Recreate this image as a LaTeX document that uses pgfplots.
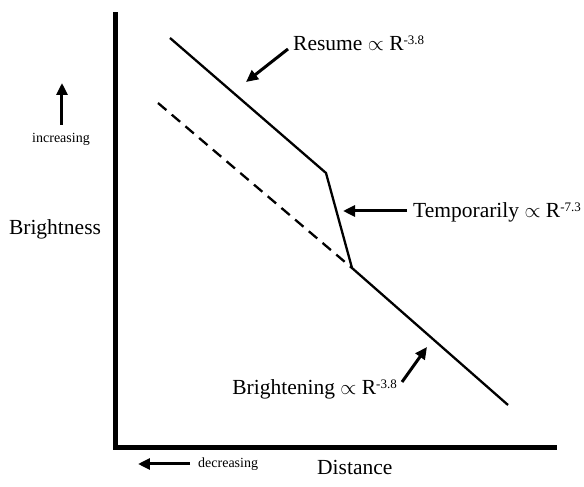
\documentclass[border=0pt]{standalone}
\usepackage{fontspec}
\setmainfont{Liberation Serif}
\usepackage{pgfplots}
\pgfplotsset{compat=1.18}
\usetikzlibrary{arrows.meta}
\newcommand{\sups}[1]{\raisebox{6bp}{\fontsize{13bp}{13bp}\selectfont #1}}
\newcommand{\bigf}{\fontsize{21.5bp}{24bp}\selectfont}
\newcommand{\smallf}{\fontsize{14bp}{16bp}\selectfont}
\begin{document}
\begin{tikzpicture}
\begin{axis}[
  x=1bp, y=1bp,
  xmin=115.5, xmax=554.5, ymin=39.5, ymax=472.5,
  axis lines=left,
  axis line style={-, line width=5bp, line cap=rect},
  ticks=none,
  clip=false,
]
\path (axis cs:0,0) rectangle (axis cs:584,487);
% solid broken line
\addplot[black, line width=2.3bp, line join=miter] coordinates {(170,449) (326,314) (352,219) (508,82)};
% dashed continuation
\addplot[black, line width=2.3bp, dash pattern=on 11bp off 7bp] coordinates {(158,384) (352,219)};
% annotations
\tikzset{ann/.style={line width=3bp, -{Triangle[length=12bp,width=11bp]}}}
\draw[ann] (axis cs:288,438) -- (axis cs:246,405);
\node[anchor=base west, inner sep=0pt, font=\bigf] at (axis cs:293,436) {Resume $\propto$ R\sups{-3.8}};
\draw[ann] (axis cs:407,276) -- (axis cs:343,276);
\node[anchor=base west, inner sep=0pt, font=\bigf] at (axis cs:413,269) {Temporarily $\propto$ R\sups{-7.3}};
\draw[ann] (axis cs:402,105) -- (axis cs:427,140);
\node[anchor=base east, inner sep=0pt, font=\bigf] at (axis cs:397,92) {Brightening $\propto$ R\sups{-3.8}};
\node[anchor=base, inner sep=0pt, font=\bigf] at (axis cs:55,252) {Brightness};
\draw[ann] (axis cs:62,362) -- (axis cs:62,404);
\node[anchor=base, inner sep=0pt, font=\smallf] at (axis cs:61,344) {increasing};
\draw[ann] (axis cs:190,23) -- (axis cs:138,23);
\node[anchor=base west, inner sep=0pt, font=\smallf] at (axis cs:198,19) {decreasing};
\node[anchor=base west, inner sep=0pt, font=\bigf] at (axis cs:317,12) {Distance};
\end{axis}
\end{tikzpicture}
\end{document}
